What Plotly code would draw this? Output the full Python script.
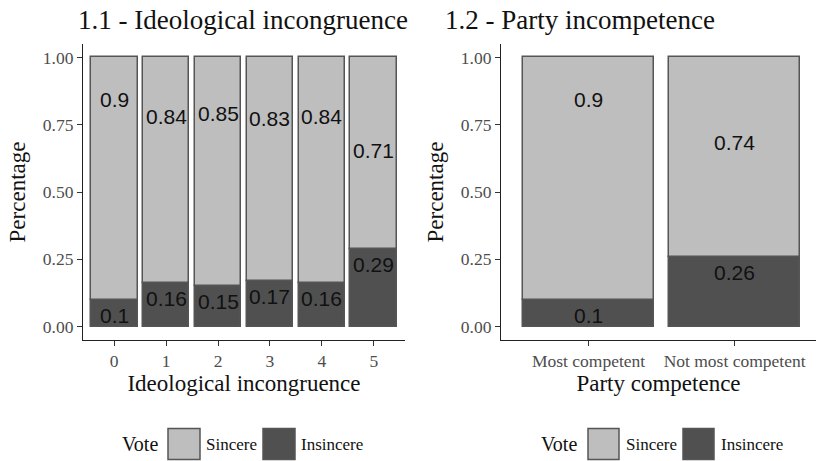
import plotly.graph_objects as go

# Data
incong_cats = ["0", "1", "2", "3", "4", "5"]
incong_sincere = [0.90, 0.84, 0.85, 0.83, 0.84, 0.71]
incong_insincere = [0.10, 0.16, 0.15, 0.17, 0.16, 0.29]

comp_cats = ["Most competent", "Not most competent"]
comp_sincere = [0.90, 0.74]
comp_insincere = [0.10, 0.26]

vote_levels = ["Sincere", "Insincere"]
y_ticks = [0, 0.25, 0.5, 0.75, 1.0]

C_SINC = "#BEBEBE"
C_INS = "#505050"
C_LINE = "#555555"
SERIF = "Liberation Serif"
SANS = "Liberation Sans"

W, H = 816, 461
fig = go.Figure()

panels = [
    (incong_cats, incong_sincere, incong_insincere, "x", "y"),
    (comp_cats, comp_sincere, comp_insincere, "x2", "y2"),
]
for cats, sinc, ins, xa, ya in panels:
    fig.add_trace(go.Bar(x=cats, y=ins, name="Insincere", marker=dict(color=C_INS, line=dict(color=C_LINE, width=1.5)),
                         width=0.9, xaxis=xa, yaxis=ya, showlegend=False, hoverinfo="skip"))
    fig.add_trace(go.Bar(x=cats, y=[1 - v for v in ins], base=ins, name="Sincere",
                         marker=dict(color=C_SINC, line=dict(color=C_LINE, width=1.5)),
                         width=0.9, xaxis=xa, yaxis=ya, showlegend=False, hoverinfo="skip"))
    # value labels: placed at the value itself, text hanging below
    for c, s, i in zip(cats, sinc, ins):
        for v in (s, i):
            fig.add_annotation(x=c, y=v, xref=xa, yref=ya, text=f"{v:g}", showarrow=False,
                               yanchor="top", yshift=-2, font=dict(family=SANS, size=21, color="#111111"))

ydom = [(461 - 340) / H, (461 - 44) / H]
axis_common = dict(showline=True, linecolor="#222222", linewidth=1.2, ticks="outside", ticklen=5,
                   tickcolor="#333333", tickwidth=1.2, showgrid=False, zeroline=False,
                   tickfont=dict(family=SERIF, size=17.5, color="#4D4D4D"))

fig.update_layout(
    width=W, height=H, margin=dict(l=0, r=0, t=0, b=0),
    plot_bgcolor="white", paper_bgcolor="white", barmode="overlay", bargap=0,
    xaxis=dict(domain=[83 / W, 405 / W], type="category", range=[-0.6, 5.6],
               title=dict(text="Ideological incongruence", font=dict(family=SERIF, size=23, color="#111111"), standoff=4),
               **axis_common),
    yaxis=dict(domain=ydom, range=[-0.05, 1.05], tickvals=y_ticks, tickformat=".2f",
               title=dict(text="Percentage", font=dict(family=SERIF, size=23, color="#111111"), standoff=10),
               **axis_common),
    xaxis2=dict(domain=[501 / W, 1.0], type="category", range=[-0.6, -0.6 + (816 - 501) / 146], anchor="y2",
                title=dict(text="Party competence", font=dict(family=SERIF, size=23, color="#111111"), standoff=4),
                **axis_common),
    yaxis2=dict(domain=ydom, range=[-0.05, 1.05], tickvals=y_ticks, tickformat=".2f", anchor="x2",
                title=dict(text="Percentage", font=dict(family=SERIF, size=23, color="#111111"), standoff=10),
                **axis_common),
)

# Panel titles
for txt, x0 in [("1.1 - Ideological incongruence", 76), ("1.2 - Party incompetence", 443)]:
    fig.add_annotation(text=txt, x=x0 / W, y=1 - 20 / H, xref="paper", yref="paper", xanchor="left", yanchor="middle",
                       showarrow=False, font=dict(family=SERIF, size=27, color="#111111"))

# Legends (keys drawn as boxes)
legend_specs = [
    (160, [(168, 200, 204), (263, 295, 299)]),
    (579, [(588, 619, 624), (683, 714, 719)]),
]
fills = {"Sincere": C_SINC, "Insincere": C_INS}
yc = 444
for vote_right, keys in legend_specs:
    fig.add_annotation(text="Vote", x=vote_right / W, y=1 - yc / H, xref="paper", yref="paper", xanchor="right",
                       yanchor="middle", showarrow=False, font=dict(family=SERIF, size=20, color="#111111"))
    for lvl, (bx0, bx1, tx) in zip(vote_levels, keys):
        fig.add_shape(type="rect", xref="paper", yref="paper", x0=bx0 / W, x1=bx1 / W,
                      y0=1 - (yc + 15.5) / H, y1=1 - (yc - 15.5) / H,
                      fillcolor=fills[lvl], line=dict(color=C_LINE, width=1.5))
        fig.add_annotation(text=lvl, x=tx / W, y=1 - yc / H, xref="paper", yref="paper", xanchor="left",
                           yanchor="middle", showarrow=False, font=dict(family=SERIF, size=17, color="#111111"))

fig.write_html("out.html", config={"displayModeBar": False},
               post_script="document.body.style.margin='0';document.body.style.overflow='hidden';")
